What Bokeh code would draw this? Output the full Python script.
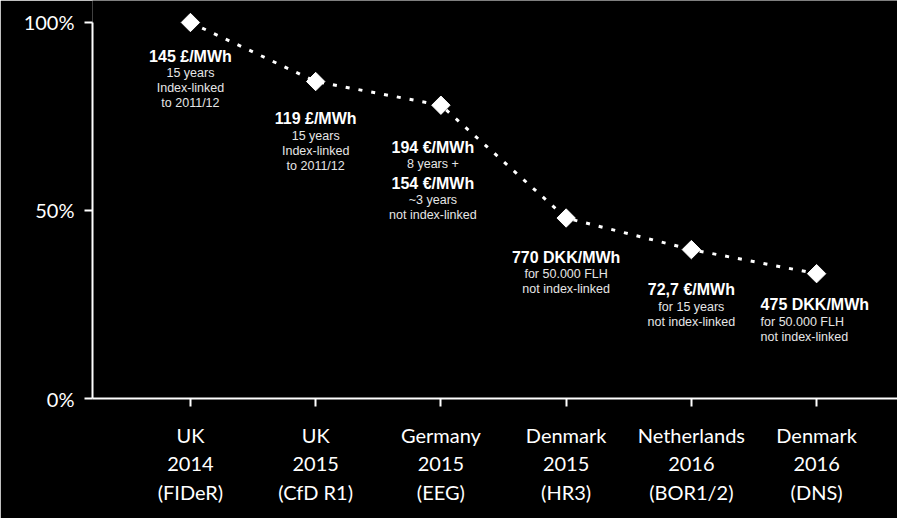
import math
from bokeh.plotting import figure
from bokeh.models import Range1d, FixedTicker, ColumnDataSource
from bokeh.core.properties import value
from bokeh.embed import file_html
from bokeh.resources import INLINE

# ---- data ----
categories = ["UK\n2014\n(FIDeR)", "UK\n2015\n(CfD R1)", "Germany\n2015\n(EEG)",
              "Denmark\n2015\n(HR3)", "Netherlands\n2016\n(BOR1/2)", "Denmark\n2016\n(DNS)"]
values = [100, 84.3, 78, 48, 39.6, 33.2]
price_labels = [
    ["145 £/MWh", "15 years", "Index-linked", "to 2011/12"],
    ["119 £/MWh", "15 years", "Index-linked", "to 2011/12"],
    ["194 €/MWh", "8 years +", "154 €/MWh", "~3 years", "not index-linked"],
    ["770 DKK/MWh", "for 50.000 FLH", "not index-linked"],
    ["72,7 €/MWh", "for 15 years", "not index-linked"],
    ["475 DKK/MWh", "for 50.000 FLH", "not index-linked"],
]
y_ticks = [0, 50, 100]
y_tick_labels = ["0%", "50%", "100%"]

# ---- layout (screen offsets for annotations) ----
label_dy = [34, 37, 42, 39, 40, 31]
label_dx = [0, 0, -8, 0, 0, -56]
label_align = ["center", "center", "center", "center", "center", "left"]

xs = list(range(1, len(values) + 1))

p = figure(width=897, height=518, output_backend="svg", toolbar_location=None,
           x_range=Range1d(0.218, 6.646), y_range=Range1d(0, 105.85),
           background_fill_color="black", border_fill_color="black",
           min_border_left=92, min_border_right=0, min_border_top=0, min_border_bottom=120)
p.outline_line_color = None
p.xgrid.grid_line_color = None
p.ygrid.grid_line_color = None

p.line(xs, values, line_color="white", line_width=3, line_dash="4 9")
p.scatter(xs, values, marker="square", angle=math.pi / 4, size=13,
          fill_color="white", line_color="white")

# annotations
bx, by, bt, bdx, bdy, bal = [], [], [], [], [], []
sx, sy, st, sdx, sdy, sal = [], [], [], [], [], []
for i, lines in enumerate(price_labels):
    off = label_dy[i]
    prev_bold = None
    for line in lines:
        bold = "/MWh" in line
        if prev_bold is not None:
            if prev_bold:
                off += 17
            else:
                off += 19 if bold else 15
        if bold:
            bx.append(xs[i]); by.append(values[i]); bt.append(line)
            bdx.append(label_dx[i]); bdy.append(off); bal.append(label_align[i])
        else:
            sx.append(xs[i]); sy.append(values[i]); st.append(line)
            sdx.append(label_dx[i]); sdy.append(off); sal.append(label_align[i])
        prev_bold = bold

bsrc = ColumnDataSource(dict(x=bx, y=by, t=bt, dx=bdx, dy=bdy, al=bal))
ssrc = ColumnDataSource(dict(x=sx, y=sy, t=st, dx=sdx, dy=sdy, al=sal))
p.text(x="x", y="y", text="t", x_offset="dx", y_offset="dy", text_align="al", source=bsrc,
       text_baseline="middle", text_color="white", text_font=value("Liberation Sans"),
       text_font_size="16px", text_font_style="bold")
p.text(x="x", y="y", text="t", x_offset="dx", y_offset="dy", text_align="al", source=ssrc,
       text_baseline="middle", text_color="#e6e6e6", text_font=value("Liberation Sans"),
       text_font_size="12.5px")

# axes
for ax in (p.xaxis[0], p.yaxis[0]):
    ax.axis_line_color = "white"
    ax.axis_line_width = 2
    ax.major_tick_line_color = "white"
    ax.major_tick_line_width = 2
    ax.major_tick_out = 8
    ax.major_tick_in = 0
    ax.minor_tick_line_color = None
    ax.major_label_text_color = "white"
    ax.major_label_text_font = "Lato"
    ax.major_label_text_font_size = "20px"

p.xaxis.ticker = FixedTicker(ticks=xs)
p.xaxis.major_label_overrides = {x: c for x, c in zip(xs, categories)}
p.xaxis.major_label_standoff = 16
p.xaxis.major_label_text_line_height = 1.2

p.yaxis.ticker = FixedTicker(ticks=y_ticks)
p.yaxis.major_label_overrides = {t: l for t, l in zip(y_ticks, y_tick_labels)}
p.yaxis.major_label_standoff = 10
p.yaxis.bounds = (0, 100)

open("out.html", "w").write(file_html(p, INLINE))
